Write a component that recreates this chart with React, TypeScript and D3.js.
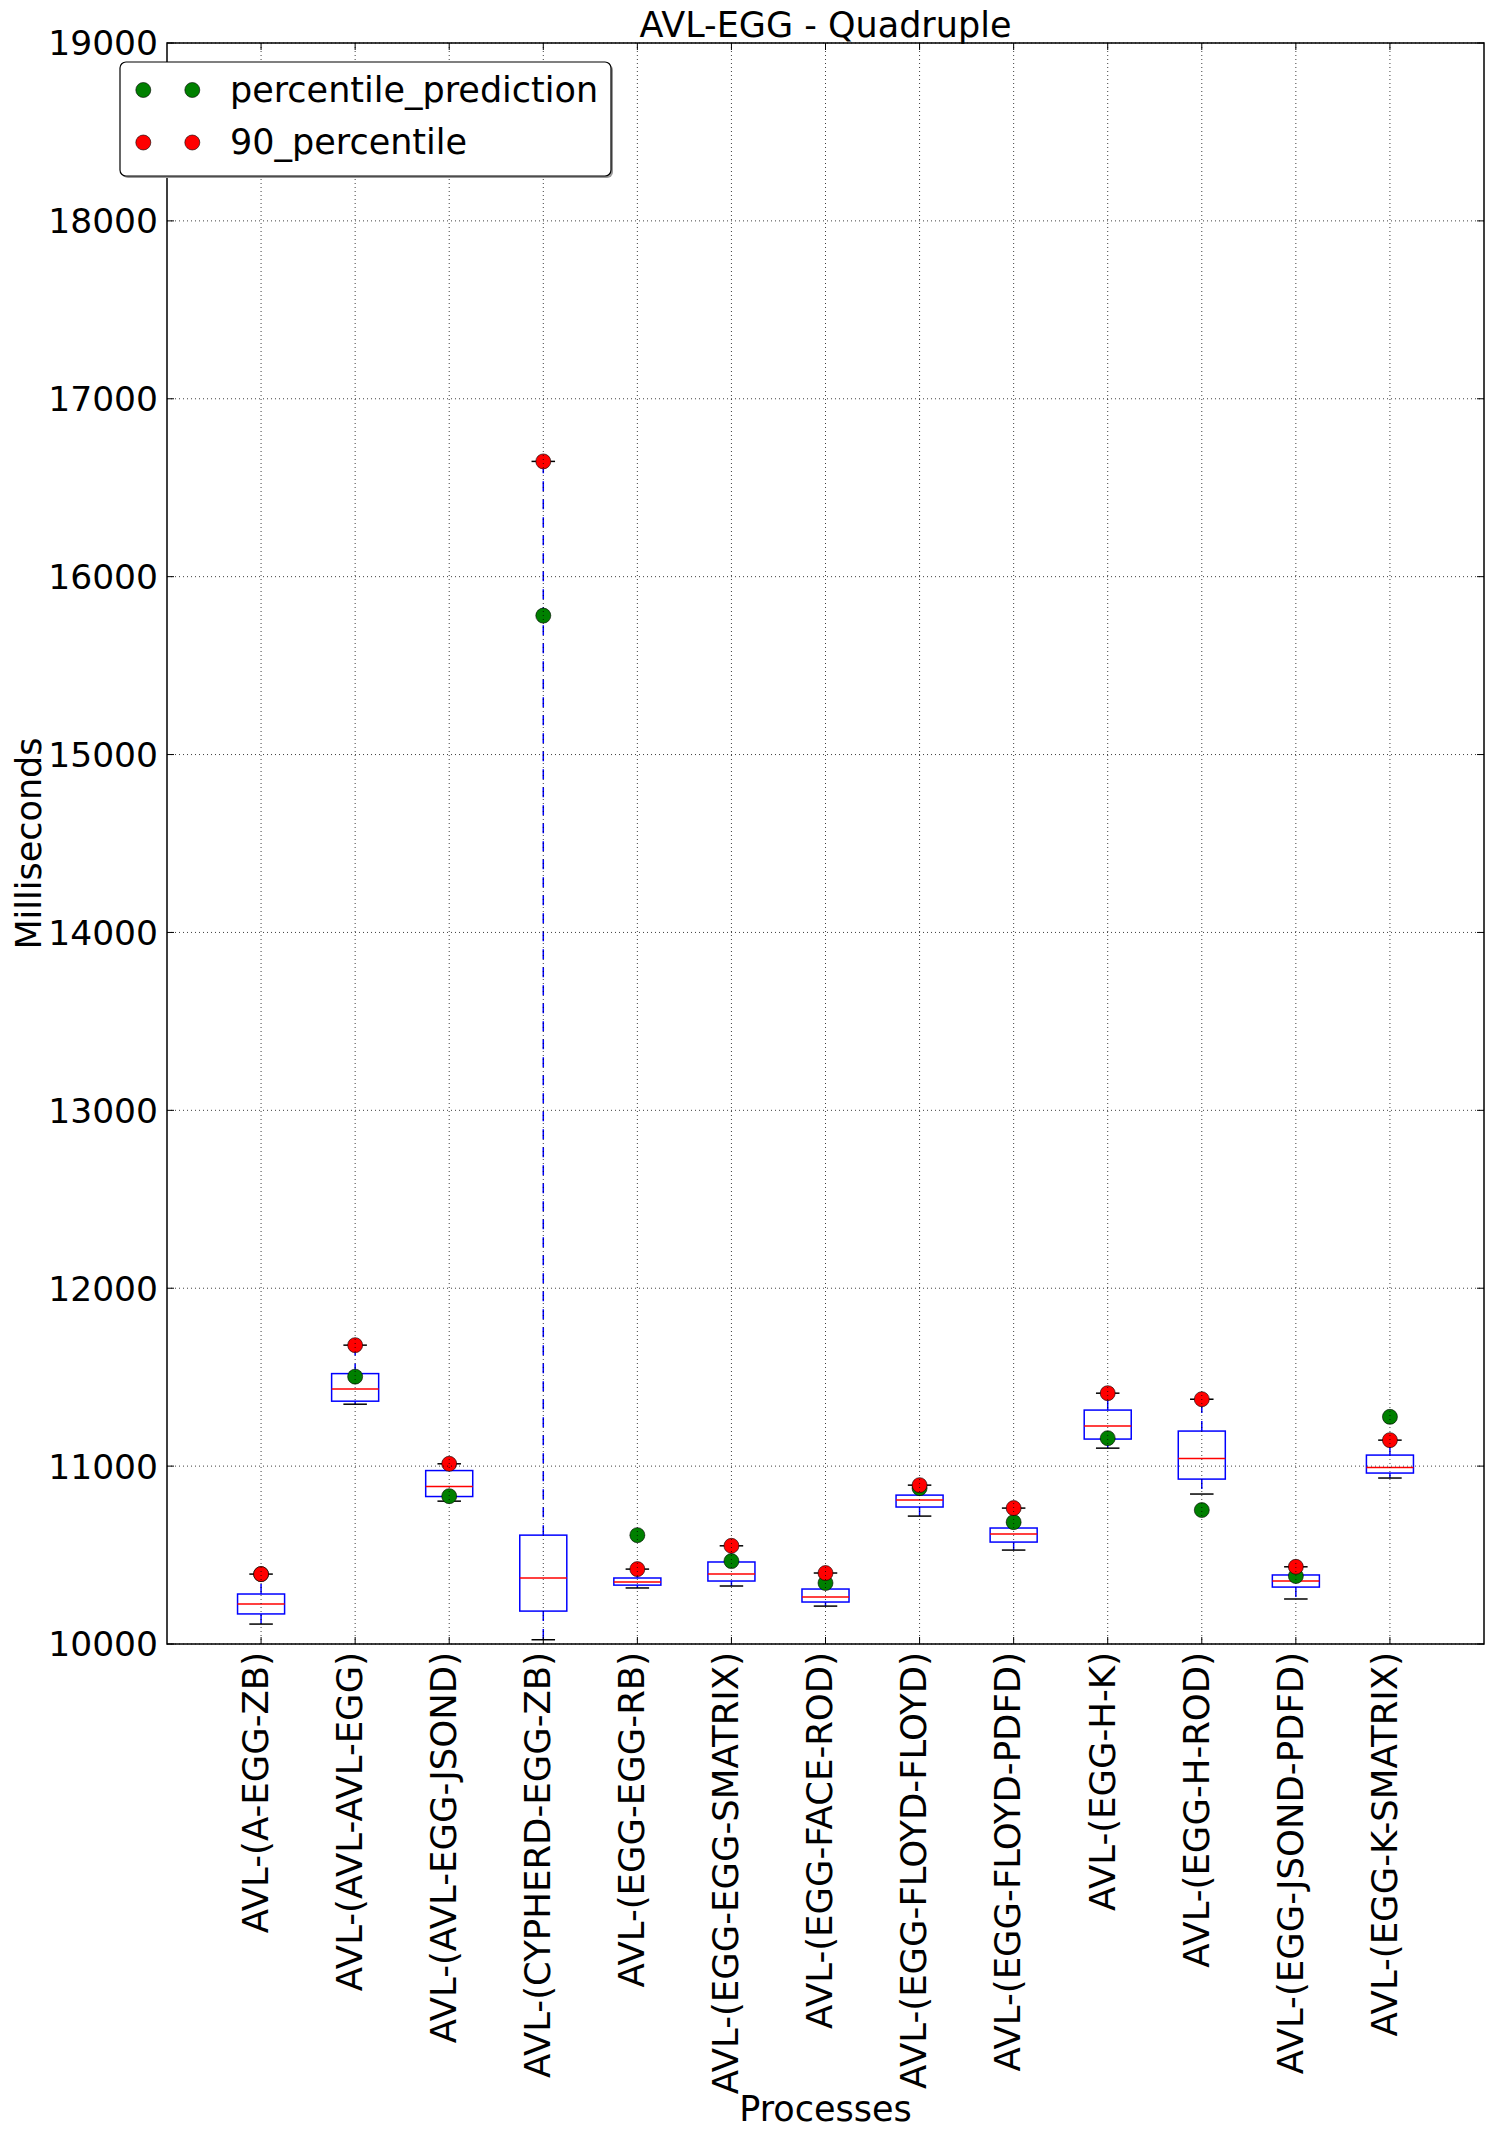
import React from "react";
import * as d3 from "d3";

const categories = [
  "AVL-(A-EGG-ZB)",
  "AVL-(AVL-AVL-EGG)",
  "AVL-(AVL-EGG-JSOND)",
  "AVL-(CYPHERD-EGG-ZB)",
  "AVL-(EGG-EGG-RB)",
  "AVL-(EGG-EGG-SMATRIX)",
  "AVL-(EGG-FACE-ROD)",
  "AVL-(EGG-FLOYD-FLOYD)",
  "AVL-(EGG-FLOYD-PDFD)",
  "AVL-(EGG-H-K)",
  "AVL-(EGG-H-ROD)",
  "AVL-(EGG-JSOND-PDFD)",
  "AVL-(EGG-K-SMATRIX)",
];
const whiskerLow = [10112, 11348, 10803, 10024, 10315, 10326, 10213, 10719, 10528, 11101, 10843, 10253, 10933];
const q1 = [10169, 11365, 10829, 10185, 10331, 10354, 10236, 10770, 10573, 11152, 10927, 10320, 10961];
const median = [10225, 11433, 10885, 10371, 10348, 10393, 10264, 10809, 10618, 11225, 11043, 10354, 10992];
const q3 = [10281, 11520, 10975, 10612, 10371, 10461, 10309, 10837, 10652, 11315, 11197, 10388, 11062];
const whiskerHigh = [10393, 11680, 11013, 16648, 10421, 10552, 10399, 10893, 10764, 11410, 11376, 10434, 11146];
const percentilePrediction = [10393, 11503, 10831, 15781, 10612, 10466, 10343, 10876, 10685, 11157, 10753, 10382, 11277];
const percentile90 = [10393, 11680, 11013, 16648, 10421, 10552, 10399, 10893, 10764, 11410, 11376, 10434, 11146];
const yTicks = [10000, 11000, 12000, 13000, 14000, 15000, 16000, 17000, 18000, 19000];

const W = 1494;
const H = 2138;
const L = 167;
const R = 1484;
const T = 43;
const B = 1644;
const FONT = "'DejaVu Sans', sans-serif";
const FS = 35;
const FSY = 34.5;
const FSX = 35.5;

export default function App() {
  const x = d3.scaleLinear().domain([0, categories.length + 1]).range([L, R]);
  const y = d3.scaleLinear().domain([10000, 19000]).range([B, T]);
  const step = x(2) - x(1);
  const boxW = step * 0.5;
  const capW = boxW * 0.5;
  const r = 7.5;
  const tickLen = 7;

  return (
    <svg
      width={W}
      height={H}
      style={{ position: "absolute", left: 0, top: 0, display: "block", background: "#fff" }}
      fontFamily={FONT}
    >
      <rect x={0} y={0} width={W} height={H} fill="#fff" />
      {/* boxplots */}
      {categories.map((c, i) => {
        const cx = x(i + 1);
        return (
          <g key={c}>
            <line x1={cx} x2={cx} y1={y(q3[i])} y2={y(whiskerHigh[i])} stroke="#0000ff" strokeWidth={1.5} strokeDasharray="10,8" />
            <line x1={cx} x2={cx} y1={y(q1[i])} y2={y(whiskerLow[i])} stroke="#0000ff" strokeWidth={1.5} strokeDasharray="10,8" />
            <line x1={cx - capW / 2} x2={cx + capW / 2} y1={y(whiskerHigh[i])} y2={y(whiskerHigh[i])} stroke="#000" strokeWidth={1.5} />
            <line x1={cx - capW / 2} x2={cx + capW / 2} y1={y(whiskerLow[i])} y2={y(whiskerLow[i])} stroke="#000" strokeWidth={1.5} />
            <rect x={cx - boxW / 2} y={y(q3[i])} width={boxW} height={y(q1[i]) - y(q3[i])} fill="none" stroke="#0000ff" strokeWidth={1.5} />
            <line x1={cx - boxW / 2} x2={cx + boxW / 2} y1={y(median[i])} y2={y(median[i])} stroke="#ff0000" strokeWidth={1.5} />
          </g>
        );
      })}
      {/* points */}
      {percentilePrediction.map((v, i) => (
        <circle key={"g" + i} cx={x(i + 1)} cy={y(v)} r={r} fill="#008000" stroke="#000" strokeWidth={0.6} />
      ))}
      {percentile90.map((v, i) => (
        <circle key={"r" + i} cx={x(i + 1)} cy={y(v)} r={r} fill="#ff0000" stroke="#000" strokeWidth={0.6} />
      ))}
      {/* grid on top (classic style) */}
      {yTicks.map((t) => (
        <line key={"gy" + t} x1={L} x2={R} y1={y(t)} y2={y(t)} stroke="#000" strokeWidth={1} strokeDasharray="1,3" opacity={0.75} />
      ))}
      {categories.map((c, i) => (
        <line key={"gx" + i} x1={x(i + 1)} x2={x(i + 1)} y1={T} y2={B} stroke="#000" strokeWidth={1} strokeDasharray="1,3" opacity={0.75} />
      ))}
      {/* ticks */}
      {yTicks.map((t) => (
        <g key={"ty" + t}>
          <line x1={L} x2={L + tickLen} y1={y(t)} y2={y(t)} stroke="#000" strokeWidth={1} />
          <line x1={R} x2={R - tickLen} y1={y(t)} y2={y(t)} stroke="#000" strokeWidth={1} />
          <text x={L - 9} y={y(t)} dy="0.36em" textAnchor="end" fontSize={FSY} fill="#000">
            {t}
          </text>
        </g>
      ))}
      {categories.map((c, i) => {
        const cx = x(i + 1);
        return (
          <g key={"tx" + i}>
            <line x1={cx} x2={cx} y1={B} y2={B - tickLen} stroke="#000" strokeWidth={1} />
            <line x1={cx} x2={cx} y1={T} y2={T + tickLen} stroke="#000" strokeWidth={1} />
            <text
              transform={`translate(${cx + 6.8},${B + 8}) rotate(-90)`}
              textAnchor="end"
              fontSize={FSX}
              fill="#000"
            >
              {c}
            </text>
          </g>
        );
      })}
      {/* frame */}
      <rect x={L} y={T} width={R - L} height={B - T} fill="none" stroke="#000" strokeWidth={1.5} />
      {/* title & labels */}
      <text x={(L + R) / 2} y={37} textAnchor="middle" fontSize={FS} fill="#000">
        AVL-EGG - Quadruple
      </text>
      <text transform={`translate(41,${(T + B) / 2}) rotate(-90)`} textAnchor="middle" fontSize={FS} fill="#000">
        Milliseconds
      </text>
      <text x={(L + R) / 2} y={2121} textAnchor="middle" fontSize={FS} fill="#000">
        Processes
      </text>
      {/* legend */}
      <g>
        <rect x={122} y={64} width={491} height={114} rx={6} fill="#999" />
        <rect x={120} y={62} width={491} height={114} rx={6} fill="#fff" stroke="#000" strokeWidth={1.2} />
        {[
          { label: "percentile_prediction", color: "#008000" },
          { label: "90_percentile", color: "#ff0000" },
        ].map((e, k) => {
          const cy = 90 + k * 52.5;
          return (
            <g key={e.label}>
              <circle cx={143.3} cy={cy} r={r} fill={e.color} stroke="#000" strokeWidth={0.6} />
              <circle cx={192.3} cy={cy} r={r} fill={e.color} stroke="#000" strokeWidth={0.6} />
              <text x={230} y={cy + 11.9} fontSize={FS} fill="#000">
                {e.label}
              </text>
            </g>
          );
        })}
      </g>
    </svg>
  );
}
